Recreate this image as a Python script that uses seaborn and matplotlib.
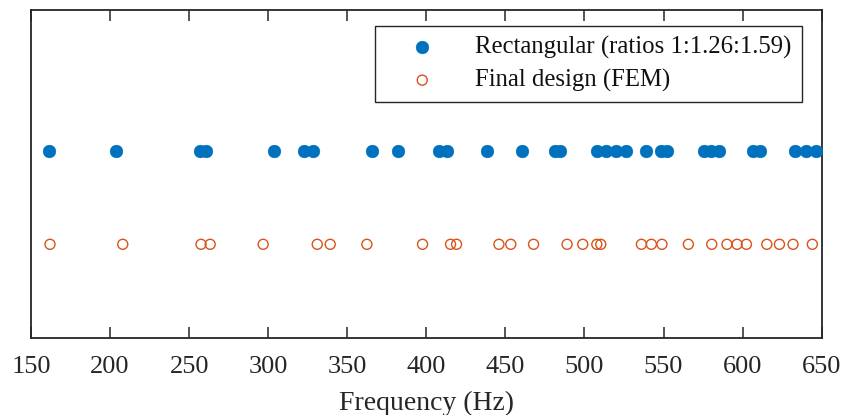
import matplotlib
matplotlib.use("Agg")
import matplotlib.pyplot as plt
import seaborn as sns
import pandas as pd

# Natural frequencies (Hz) of the two designs
rect_freqs = [161.6, 203.7, 257.0, 260.6, 303.4, 322.8, 328.1, 365.6, 381.8,
              407.7, 412.8, 438.4, 460.4, 481.5, 484.6, 508.2, 513.5, 520.2,
              526.1, 538.6, 548.2, 552.5, 575.8, 580.3, 585.1, 606.6, 611.2,
              632.9, 639.9, 646.2]
fem_freqs = [162.0, 208.0, 257.5, 263.3, 296.8, 331.0, 339.2, 362.4, 397.6,
             415.3, 419.1, 445.9, 453.4, 467.8, 489.0, 498.9, 507.8, 510.3,
             536.0, 542.3, 549.0, 565.7, 580.5, 590.1, 596.5, 602.4, 615.3,
             623.3, 631.9, 644.1]

series_labels = ["Rectangular (ratios 1:1.26:1.59)", "Final design (FEM)"]
row_levels = [2, 1]
x_ticks = [150, 200, 250, 300, 350, 400, 450, 500, 550, 600, 650]
x_label = "Frequency (Hz)"

blue = "#0072BD"
orange = "#D95319"

sns.set_theme(style="white")
plt.rcParams["font.family"] = ["Liberation Serif", "DejaVu Serif"]

df_rect = pd.DataFrame({"freq": rect_freqs, "row": row_levels[0]})
df_fem = pd.DataFrame({"freq": fem_freqs, "row": row_levels[1]})

fig = plt.figure(figsize=(8.43, 4.15), dpi=100)
ax = fig.add_axes([0.0368, 0.1855, 0.9379, 0.7904])

sns.scatterplot(data=df_rect, x="freq", y="row", ax=ax, s=85, color=blue,
                edgecolor=blue, linewidth=0.3, label=series_labels[0],
                zorder=3)
sns.scatterplot(data=df_fem, x="freq", y="row", ax=ax, s=52,
                facecolor="none", edgecolor=orange, linewidth=1.0,
                label=series_labels[1], zorder=3)

ax.set_xlim(150, 650)
ax.set_ylim(0, 3.5)
ax.set_xticks(x_ticks)
ax.set_xticklabels([str(t) for t in x_ticks])
ax.set_yticks([])
ax.set_xlabel(x_label, fontsize=20, color="#262626", labelpad=9)
ax.set_ylabel("")

for side in ["left", "right", "top", "bottom"]:
    ax.spines[side].set_visible(True)
    ax.spines[side].set_color("#262626")
    ax.spines[side].set_linewidth(1.3)

ax.tick_params(axis="x", which="both", direction="in", length=8, width=1.1,
               top=True, bottom=True, color="#262626", labelsize=19,
               labelcolor="#262626", pad=13)

leg = ax.legend(loc="upper right", bbox_to_anchor=(0.9747, 0.951),
                borderaxespad=0, fontsize=17.8, frameon=True, fancybox=False,
                edgecolor="#262626", framealpha=1, borderpad=0.4,
                handlelength=3.0, handletextpad=0.65, labelspacing=0.4)
leg.get_frame().set_linewidth(1.0)
for txt in leg.get_texts():
    txt.set_color("#111111")

fig.savefig("out.png", dpi=100)
